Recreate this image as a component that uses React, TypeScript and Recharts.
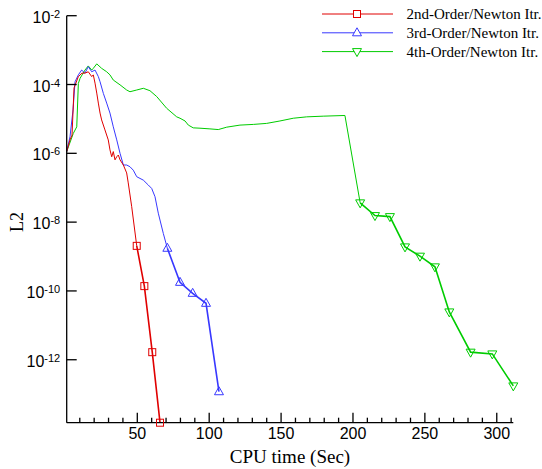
import React from 'react';
import { LineChart, Line, XAxis, YAxis, Label } from 'recharts';

// CPU time (Sec) and log10(L2)
const secondOrderTime = [0.9, 3.2, 4.6, 6.0, 9.0, 11.5, 13.6, 15.9, 18.3, 19.4, 20.6, 21.8, 22.9, 24.1, 25.2, 27.5, 29.8, 31.0, 32.2, 33.3, 34.5, 35.7, 36.8, 38.0, 40.3, 42.6, 43.7, 46.1, 49.6];
const secondOrderLogL2 = [-5.95, -5.61, -5.47, -4.10, -3.77, -3.67, -3.67, -3.63, -3.77, -3.72, -3.96, -4.25, -4.54, -4.83, -5.03, -5.32, -5.61, -5.90, -6.10, -5.95, -6.19, -6.10, -6.05, -6.19, -6.34, -6.57, -6.86, -7.55, -8.69];
const secondNewtonTime = [49.6, 54.9, 60.4, 65.8];
const secondNewtonLogL2 = [-8.69, -9.86, -11.78, -13.83];

const thirdOrderTime = [0.9, 3.2, 5.3, 6.7, 9.0, 11.3, 13.6, 15.9, 18.3, 20.6, 22.9, 24.1, 26.4, 28.7, 31.0, 33.3, 35.7, 38.0, 40.3, 42.6, 44.9, 47.2, 49.6, 54.2, 57.6, 60.0, 62.3, 64.6, 68.1, 70.9];
const thirdOrderLogL2 = [-5.95, -5.52, -4.74, -3.92, -3.72, -3.58, -3.67, -3.48, -3.63, -3.58, -3.77, -3.92, -4.26, -4.54, -4.83, -5.23, -5.61, -6.00, -6.34, -6.34, -6.39, -6.49, -6.68, -6.78, -6.92, -7.02, -7.26, -7.74, -8.33, -8.76];
const thirdNewtonTime = [70.9, 79.7, 88.5, 97.8, 106.8];
const thirdNewtonLogL2 = [-8.76, -9.75, -10.07, -10.36, -12.93];

const fourthOrderTime = [0.9, 5.5, 7.9, 9.0, 10.2, 13.6, 15.9, 18.3, 19.4, 21.8, 25.2, 28.7, 31.0, 33.3, 38.0, 42.6, 44.9, 49.6, 54.2, 58.8, 63.5, 70.4, 77.4, 79.7, 83.2, 85.5, 88.9, 93.6, 100.5, 106.3, 112.2, 121.4, 130.7, 140.0, 149.2, 158.5, 167.8, 179.3, 194.4, 205.0];
const fourthOrderLogL2 = [-5.95, -5.42, -5.23, -3.97, -3.82, -3.58, -3.46, -3.58, -3.53, -3.40, -3.53, -3.63, -3.72, -3.87, -4.01, -4.16, -4.21, -4.16, -4.11, -4.18, -4.35, -4.69, -4.94, -4.98, -5.06, -5.18, -5.26, -5.27, -5.29, -5.31, -5.24, -5.18, -5.16, -5.13, -5.06, -4.98, -4.94, -4.92, -4.90, -7.44];
const fourthNewtonTime = [205.0, 215.3, 225.7, 236.2, 246.6, 257.0, 267.0, 281.8, 296.9, 311.5];
const fourthNewtonLogL2 = [-7.44, -7.81, -7.84, -8.72, -8.99, -9.30, -10.61, -11.78, -11.83, -12.76];

const seriesNames = ['2nd-Order/Newton Itr.', '3rd-Order/Newton Itr.', '4th-Order/Newton Itr.'];
const xTicks = [10, 20, 30, 40, 50, 60, 70, 80, 90, 100, 110, 120, 130, 140, 150, 160, 170, 180, 190, 200, 210, 220, 230, 240, 250, 260, 270, 280, 290, 300, 310];
const yTicks = [-12, -10, -8, -6, -4, -2];

const RED = '#e00000';
const BLUE = '#3838ff';
const GREEN = '#00cc00';

const zip = (t: number[], v: number[]) => t.map((x, i) => ({ x, y: v[i] }));

const SANS = '"Liberation Sans", Arial, Helvetica, sans-serif';
const SERIF = '"Liberation Serif", "Times New Roman", serif';

const YTick = (props: any) => {
  const { x, y, payload } = props;
  return (
    <g>
      <line x1={x} x2={x + 10} y1={y} y2={y} stroke="#000" strokeWidth={1.3} />
      <text x={x - 6.5} y={y + 7} textAnchor="end" fontFamily={SANS} fontSize={16} fill="#000">
        10<tspan dy={-5} fontSize={11}>{String(payload.value)}</tspan>
      </text>
    </g>
  );
};

const XTick = (props: any) => {
  const { x, y, payload } = props;
  const major = payload.value % 50 === 0;
  return (
    <g>
      <line x1={x} x2={x} y1={y} y2={y - (major ? 10 : 5)} stroke="#000" strokeWidth={1.3} />
      {major && (
        <text x={x} y={y + 16} textAnchor="middle" fontFamily={SANS} fontSize={16} fill="#000">
          {payload.value}
        </text>
      )}
    </g>
  );
};

const square = (color: string) => (p: any) => (
  <rect key={p.key ?? `s${p.index}`} x={p.cx - 3.5} y={p.cy - 3.5} width={7} height={7} fill="none" stroke={color} strokeWidth={1} />
);
const triUp = (color: string) => (p: any) => (
  <polygon key={p.key ?? `u${p.index}`} points={`${p.cx},${p.cy - 5} ${p.cx - 4.5},${p.cy + 3} ${p.cx + 4.5},${p.cy + 3}`} fill="none" stroke={color} strokeWidth={1} />
);
const triDown = (color: string) => (p: any) => (
  <polygon key={p.key ?? `d${p.index}`} points={`${p.cx},${p.cy + 5} ${p.cx - 4.5},${p.cy - 3} ${p.cx + 4.5},${p.cy - 3}`} fill="none" stroke={color} strokeWidth={1} />
);

const XTitle = (props: any) => {
  const vb = props.viewBox || {};
  return (
    <text x={vb.x + vb.width / 2} y={463} textAnchor="middle" fontFamily={SERIF} fontSize={19} fill="#000">
      CPU time (Sec)
    </text>
  );
};

const YTitle = () => (
  <text x={23} y={222} textAnchor="middle" transform="rotate(-90 23 222)" fontFamily={SERIF} fontSize={18} fill="#000">
    L2
  </text>
);

const LegendOverlay = () => {
  const rows = [
    { name: seriesNames[0], color: RED, marker: 'sq' },
    { name: seriesNames[1], color: BLUE, marker: 'up' },
    { name: seriesNames[2], color: GREEN, marker: 'down' },
  ];
  const ys = [14, 32.8, 51.6];
  return (
    <svg width={542} height={70} style={{ position: 'absolute', left: 0, top: 0, pointerEvents: 'none' }}>
      {rows.map((r, i) => {
        const cy = ys[i];
        const cx = 357;
        return (
          <g key={r.name}>
            <line x1={322} x2={393} y1={cy} y2={cy} stroke={r.color} strokeWidth={1} />
            {r.marker === 'sq' && <rect x={cx - 3.5} y={cy - 3.5} width={7} height={7} fill="#fff" stroke={r.color} />}
            {r.marker === 'up' && <polygon points={`${cx},${cy - 5} ${cx - 4.5},${cy + 3} ${cx + 4.5},${cy + 3}`} fill="#fff" stroke={r.color} />}
            {r.marker === 'down' && <polygon points={`${cx},${cy + 5} ${cx - 4.5},${cy - 3} ${cx + 4.5},${cy - 3}`} fill="#fff" stroke={r.color} />}
            <text x={406.5} y={cy + 5} fontFamily={SERIF} fontSize={15} fill="#000">{r.name}</text>
          </g>
        );
      })}
    </svg>
  );
};

export default function App() {
  return (
    <div style={{ position: 'absolute', left: 0, top: 0, width: 542, height: 469, background: '#fff', overflow: 'hidden' }}>
      <LineChart width={542} height={469} margin={{ top: 15.7, right: 28.7, bottom: 16.3, left: 0 }}>
        <XAxis
          type="number"
          dataKey="x"
          domain={[0.9, 311.5]}
          ticks={xTicks}
          interval={0}
          tickSize={0}
          tickMargin={0}
          height={30}
          axisLine={{ stroke: '#000', strokeWidth: 1.3 }}
          tickLine={false}
          tick={<XTick />}
        >
          <Label content={<XTitle />} />
        </XAxis>
        <YAxis
          type="number"
          dataKey="y"
          domain={[-13.83, -2]}
          ticks={yTicks}
          interval={0}
          tickSize={0}
          tickMargin={0}
          width={66.7}
          axisLine={{ stroke: '#000', strokeWidth: 1.3 }}
          tickLine={false}
          tick={<YTick />}
        >
          <Label content={<YTitle />} />
        </YAxis>
        <Line data={zip(fourthOrderTime, fourthOrderLogL2)} dataKey="y" stroke={GREEN} strokeWidth={1} dot={false} isAnimationActive={false} />
        <Line data={zip(thirdOrderTime, thirdOrderLogL2)} dataKey="y" stroke={BLUE} strokeWidth={1} dot={false} isAnimationActive={false} />
        <Line data={zip(secondOrderTime, secondOrderLogL2)} dataKey="y" stroke={RED} strokeWidth={1} dot={false} isAnimationActive={false} />
        <Line data={zip(fourthNewtonTime, fourthNewtonLogL2)} dataKey="y" stroke={GREEN} strokeWidth={1.6} dot={triDown(GREEN)} isAnimationActive={false} />
        <Line data={zip(thirdNewtonTime, thirdNewtonLogL2)} dataKey="y" stroke={BLUE} strokeWidth={1.6} dot={triUp(BLUE)} isAnimationActive={false} />
        <Line data={zip(secondNewtonTime, secondNewtonLogL2)} dataKey="y" stroke={RED} strokeWidth={1.6} dot={square(RED)} isAnimationActive={false} />
      </LineChart>
      <LegendOverlay />
    </div>
  );
}
